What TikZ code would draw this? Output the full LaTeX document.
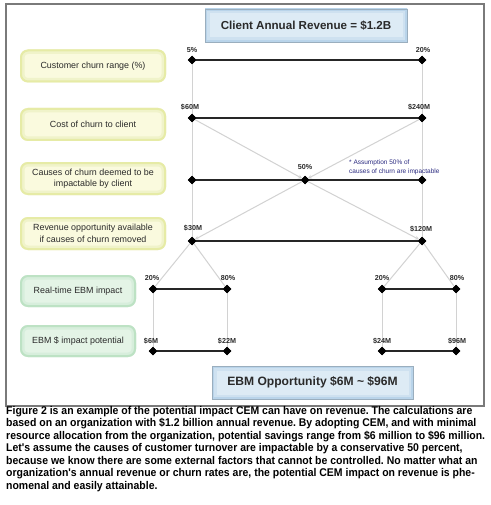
\documentclass[tikz,border=0pt]{standalone}
\usepackage{fontspec}
\setmainfont{Liberation Sans}
\newfontfamily\capfont[FakeStretch=0.935]{Liberation Sans}
\usetikzlibrary{shapes.geometric,arrows.meta}
\definecolor{framegray}{HTML}{7A7A7A}
\definecolor{bluefill}{HTML}{DDEBF5}
\definecolor{blueglow}{HTML}{B9D4EA}
\definecolor{blueedge}{HTML}{9AAEBE}
\definecolor{yelfill}{HTML}{FAFADE}
\definecolor{yelglow}{HTML}{E6EBA6}
\definecolor{grnfill}{HTML}{E4F4E6}
\definecolor{grnglow}{HTML}{BDE2C4}
\definecolor{conngray}{HTML}{D2D2D2}
\definecolor{notenavy}{HTML}{2A2A80}
\definecolor{txtdark}{HTML}{2A2A2A}
\frenchspacing
\tikzset{
  bluebox/.style={rectangle, fill=bluefill, draw=blueedge, line width=0.8pt,
    font=\bfseries, text=txtdark,
    path picture={\draw[blueglow!70!white, line width=9pt] (path picture bounding box.south west) rectangle (path picture bounding box.north east);
                  \draw[blueglow, line width=4pt] (path picture bounding box.south west) rectangle (path picture bounding box.north east);}},
  yelbox/.style={rectangle, rounded corners=8pt, fill=yelfill, align=center,
    font=\fontsize{8.9}{11.5}\selectfont, text=txtdark, minimum width=146pt, minimum height=33pt,
    path picture={\draw[yelglow!60!white, rounded corners=8pt, line width=9pt] (path picture bounding box.south west) rectangle (path picture bounding box.north east);
                  \draw[yelglow, rounded corners=8pt, line width=4pt] (path picture bounding box.south west) rectangle (path picture bounding box.north east);}},
  grnbox/.style={rectangle, rounded corners=8pt, fill=grnfill, align=center,
    font=\fontsize{8.9}{11.5}\selectfont, text=txtdark, minimum width=116pt, minimum height=32pt,
    path picture={\draw[grnglow!60!white, rounded corners=8pt, line width=9pt] (path picture bounding box.south west) rectangle (path picture bounding box.north east);
                  \draw[grnglow, rounded corners=8pt, line width=4pt] (path picture bounding box.south west) rectangle (path picture bounding box.north east);}},
  dmd/.style={diamond, fill=black, inner sep=0pt, minimum width=8.5pt, minimum height=8.5pt},
  vlab/.style={font=\bfseries\fontsize{7.2}{8}\selectfont, text=txtdark, inner sep=0pt},
  blk/.style={draw=black!85, line width=1.5pt},
  gry/.style={draw=conngray, line width=1pt},
  garr/.style={draw=conngray, line width=1pt, -{Stealth[length=4pt,width=4pt]}},
  capline/.style={anchor=base west, inner sep=0pt, font=\capfont\bfseries\fontsize{11.2}{12.5}\selectfont, text=black},
  note/.style={anchor=west, inner sep=0pt, font=\fontsize{6.5}{7}\selectfont, text=notenavy}
}
\begin{document}
\frenchspacing
\begin{tikzpicture}[x=1pt,y=-1pt]
\useasboundingbox (0,0) rectangle (490,505);
\fill[white] (0,0) rectangle (490,505);
\draw[framegray, line width=1.6pt] (6,4) rectangle (484,406);

% title boxes
\node[bluebox, minimum width=202pt, minimum height=33pt, font=\bfseries\fontsize{11.6}{13}\selectfont] (top) at (306,25.5) {Client Annual Revenue = \$1.2B};
\node[bluebox, minimum width=201pt, minimum height=33pt, font=\bfseries\fontsize{12.1}{14}\selectfont] (bot) at (312.5,382.5) {EBM Opportunity \$6M \textasciitilde{} \$96M};

% left labels
\node[yelbox] (b1) at (93,66) {Customer churn range (\%)};
\node[yelbox] (b2) at (93,124.5) {Cost of churn to client};
\node[yelbox] (b3) at (93,178.5) {Causes of churn deemed to be\\impactable by client};
\node[yelbox] (b4) at (93,233.5) {Revenue opportunity available\\if causes of churn removed};
\node[grnbox] (b5) at (78,291) {Real-time EBM impact};
\node[grnbox] (b6) at (78,341) {EBM \$ impact potential};

% diamonds
\node[dmd] (r1L) at (192,60) {};
\node[dmd] (r1R) at (422,60) {};
\node[dmd] (r2L) at (192,118) {};
\node[dmd] (r2R) at (422,118) {};
\node[dmd] (r3L) at (192,180) {};
\node[dmd] (r3M) at (305,180) {};
\node[dmd] (r3R) at (422,180) {};
\node[dmd] (r4L) at (192,241) {};
\node[dmd] (r4R) at (422,241) {};
\node[dmd] (r5a) at (153,289) {};
\node[dmd] (r5b) at (227,289) {};
\node[dmd] (r5c) at (382,289) {};
\node[dmd] (r5d) at (456,289) {};
\node[dmd] (r6a) at (153,351) {};
\node[dmd] (r6b) at (227,351) {};
\node[dmd] (r6c) at (382,351) {};
\node[dmd] (r6d) at (456,351) {};

% gray connectors
\draw[gry] (r1L) -- (r2L) -- (r3L) -- (r4L);
\draw[gry] (r1R) -- (r2R) -- (r3R) -- (r4R);
\draw[garr] (r2L) -- (r3M);
\draw[garr] (r2R) -- (r3M);
\draw[garr] (r3M) -- (r4L);
\draw[garr] (r3M) -- (r4R);
\draw[gry] (r4L) -- (r5a);
\draw[gry] (r4L) -- (r5b);
\draw[gry] (r4R) -- (r5c);
\draw[gry] (r4R) -- (r5d);
\draw[gry] (r5a) -- (r6a);
\draw[gry] (r5b) -- (r6b);
\draw[gry] (r5c) -- (r6c);
\draw[gry] (r5d) -- (r6d);

% black connectors
\draw[blk] (r1L) -- (r1R);
\draw[blk] (r2L) -- (r2R);
\draw[blk] (r3L) -- (r3M) -- (r3R);
\draw[blk] (r4L) -- (r4R);
\draw[blk] (r5a) -- (r5b);
\draw[blk] (r5c) -- (r5d);
\draw[blk] (r6a) -- (r6b);
\draw[blk] (r6c) -- (r6d);

% redraw diamonds on top
\foreach \n in {r1L,r1R,r2L,r2R,r3L,r3M,r3R,r4L,r4R,r5a,r5b,r5c,r5d,r6a,r6b,r6c,r6d}
  \fill[black] ([yshift=-4.25pt]\n.center) -- ([xshift=4.25pt]\n.center) -- ([yshift=4.25pt]\n.center) -- ([xshift=-4.25pt]\n.center) -- cycle;

% value labels
\node[vlab] (l1L) at (192,50) {5\%};
\node[vlab] (l1R) at (423,50) {20\%};
\node[vlab] (l2L) at (190,107) {\$60M};
\node[vlab] (l2R) at (419,107) {\$240M};
\node[vlab] (l3M) at (305,167) {50\%};
\node[vlab] (l4L) at (193,228) {\$30M};
\node[vlab] (l4R) at (421,229) {\$120M};
\node[vlab] (l5a) at (152,278) {20\%};
\node[vlab] (l5b) at (228,278) {80\%};
\node[vlab] (l5c) at (382,278) {20\%};
\node[vlab] (l5d) at (457,278) {80\%};
\node[vlab] (l6a) at (151,341) {\$6M};
\node[vlab] (l6b) at (227,341) {\$22M};
\node[vlab] (l6c) at (382,341) {\$24M};
\node[vlab] (l6d) at (457,341) {\$96M};

% note
\node[note] (n1) at (349,163) {* Assumption 50\% of};
\node[note] (n2) at (349,172) {causes of churn are impactable};

% caption
\node[capline] (c1) at (6,414) {Figure 2 is an example of the potential impact CEM can have on revenue. The calculations are};
\node[capline] (c2) at (6,426.5) {based on an organization with \$1.2 billion annual revenue. By adopting CEM, and with minimal};
\node[capline] (c3) at (6,439) {resource allocation from the organization, potential savings range from \$6 million to \$96 million.};
\node[capline] (c4) at (6,451.5) {Let's assume the causes of customer turnover are impactable by a conservative 50 percent,};
\node[capline] (c5) at (6,464) {because we know there are some external factors that cannot be controlled. No matter what an};
\node[capline] (c6) at (6,476.5) {organization's annual revenue or churn rates are, the potential CEM impact on revenue is phe-};
\node[capline] (c7) at (6,489) {nomenal and easily attainable.};
\end{tikzpicture}
\end{document}
